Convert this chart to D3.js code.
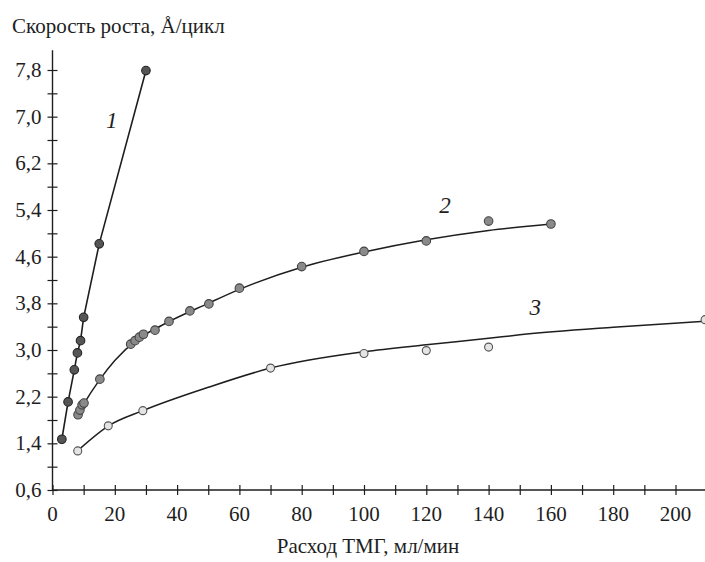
<!DOCTYPE html>
<html><head><meta charset="utf-8">
<script src="https://cdn.jsdelivr.net/npm/d3@7"></script>
</head><body style="margin:0">
<svg id="c" width="705" height="562"></svg>
<script>
// Series 1 (points joined by straight segments)
const s1X = [3, 5, 7, 8, 9, 10, 15, 30];
const s1Y = [1.47, 2.11, 2.66, 2.95, 3.16, 3.56, 4.82, 7.79];
// Series 2 points
const s2X = [8.2, 8.8, 9.5, 10.1, 15.2, 25.1, 26.5, 27.9, 29.2, 32.9, 37.4, 44.1, 50.2, 60, 80, 100, 120, 140, 160];
const s2Y = [1.89, 1.97, 2.06, 2.09, 2.50, 3.10, 3.16, 3.22, 3.27, 3.34, 3.49, 3.67, 3.79, 4.06, 4.43, 4.69, 4.87, 5.21, 5.16];
// Series 2 fitted curve
const c2X = [8, 10, 15, 20, 27, 35, 50, 60, 80, 100, 120, 140, 160];
const c2Y = [1.88, 2.07, 2.48, 2.82, 3.17, 3.42, 3.80, 4.04, 4.42, 4.68, 4.89, 5.05, 5.16];
// Series 3 points
const s3X = [8.1, 17.9, 29, 70, 100, 120, 140, 209.5];
const s3Y = [1.27, 1.70, 1.96, 2.69, 2.94, 2.99, 3.05, 3.52];
// Series 3 fitted curve
const c3X = [8, 18, 29, 50, 70, 100, 120, 140, 150, 180, 212];
const c3Y = [1.27, 1.70, 1.96, 2.36, 2.69, 2.97, 3.09, 3.20, 3.26, 3.39, 3.50];
// Axis ticks
const xTicks = d3.range(0, 211, 10);
const xLabels = [0, 20, 40, 60, 80, 100, 120, 140, 160, 180, 200];
const yTicks = d3.range(0, 19).map(i => +(0.6 + 0.4 * i).toFixed(1));
const yLabels = [0.6, 1.4, 2.2, 3.0, 3.8, 4.6, 5.4, 6.2, 7.0, 7.8];
const curveLabels = [{t: "1", x: 19, y: 6.8}, {t: "2", x: 126, y: 5.35}, {t: "3", x: 155, y: 3.6}];
const yTitle = "Скорость роста, Å/цикл";
const xTitle = "Расход ТМГ, мл/мин";

const svg = d3.select("#c");
const x = d3.scaleLinear().domain([0, 200]).range([52.5, 675.5]);
const y = d3.scaleLinear().domain([0.6, 7.8]).range([490, 70]);
const ink = "#1e1e1e";

function label(sel) {
  return sel.attr("font-family", "Times New Roman").style("font-family", "'Times New Roman'").attr("fill", ink);
}

// axes lines
svg.append("line").attr("x1", x(0)).attr("x2", 705).attr("y1", y(0.6)).attr("y2", y(0.6)).attr("stroke", ink).attr("stroke-width", 1.4);
svg.append("line").attr("x1", x(0)).attr("x2", x(0)).attr("y1", y(0.6)).attr("y2", y(8.14)).attr("stroke", ink).attr("stroke-width", 1.4);

// x axis ticks
const xa = svg.append("g").attr("transform", `translate(0,${y(0.6)})`)
  .call(d3.axisBottom(x).tickValues(xTicks).tickSize(5).tickFormat(""));
xa.select(".domain").remove();
xa.selectAll(".tick line").attr("y1", -5).attr("y2", 5).attr("stroke", ink).attr("stroke-width", 1.2);
xa.selectAll(".tick text").remove();
label(svg.append("g").selectAll("text").data(xLabels).join("text")
  .attr("x", d => x(d)).attr("y", y(0.6) + 31).attr("text-anchor", "middle").style("font-size", "21px"))
  .text(d => String(d));

// y axis ticks
const ya = svg.append("g").attr("transform", `translate(${x(0)},0)`)
  .call(d3.axisLeft(y).tickValues(yTicks).tickSize(5).tickFormat(""));
ya.select(".domain").remove();
ya.selectAll(".tick line").attr("x1", -5).attr("x2", 5).attr("stroke", ink).attr("stroke-width", 1.2);
ya.selectAll(".tick text").remove();
label(svg.append("g").selectAll("text").data(yLabels).join("text")
  .attr("x", x(0) - 11).attr("y", d => y(d) + 7).attr("text-anchor", "end").style("font-size", "21px"))
  .text(d => d.toFixed(1).replace(".", ","));

// lines
const line = d3.line().x(d => x(d[0])).y(d => y(d[1]));
const lineS = d3.line().x(d => x(d[0])).y(d => y(d[1])).curve(d3.curveMonotoneX);
svg.append("path").datum(d3.zip(s1X, s1Y)).attr("d", line).attr("fill", "none").attr("stroke", ink).attr("stroke-width", 1.6);
svg.append("path").datum(d3.zip(c2X, c2Y)).attr("d", lineS).attr("fill", "none").attr("stroke", ink).attr("stroke-width", 1.5);
svg.append("path").datum(d3.zip(c3X, c3Y)).attr("d", lineS).attr("fill", "none").attr("stroke", ink).attr("stroke-width", 1.5);

// points
function pts(xs, ys, fill, stroke, r) {
  svg.append("g").selectAll("circle").data(d3.zip(xs, ys)).join("circle")
    .attr("cx", d => x(d[0])).attr("cy", d => y(d[1])).attr("r", r)
    .attr("fill", fill).attr("stroke", stroke).attr("stroke-width", 1.1);
}
pts(s3X, s3Y, "#e4e4e4", "#555", 4);
pts(s2X, s2Y, "#8a8a8a", "#444", 4.3);
pts(s1X, s1Y, "#555", "#222", 4.3);

// curve labels
label(svg.append("g").selectAll("text").data(curveLabels).join("text")
  .attr("x", d => x(d.x)).attr("y", d => y(d.y)).attr("text-anchor", "middle")
  .style("font-size", "23px").style("font-style", "italic"))
  .text(d => d.t);

// titles
label(svg.append("text").attr("x", 12).attr("y", 33).style("font-size", "21px")).text(yTitle);
label(svg.append("text").attr("x", 368).attr("y", 553).attr("text-anchor", "middle").style("font-size", "21px")).text(xTitle);
</script></body></html>
